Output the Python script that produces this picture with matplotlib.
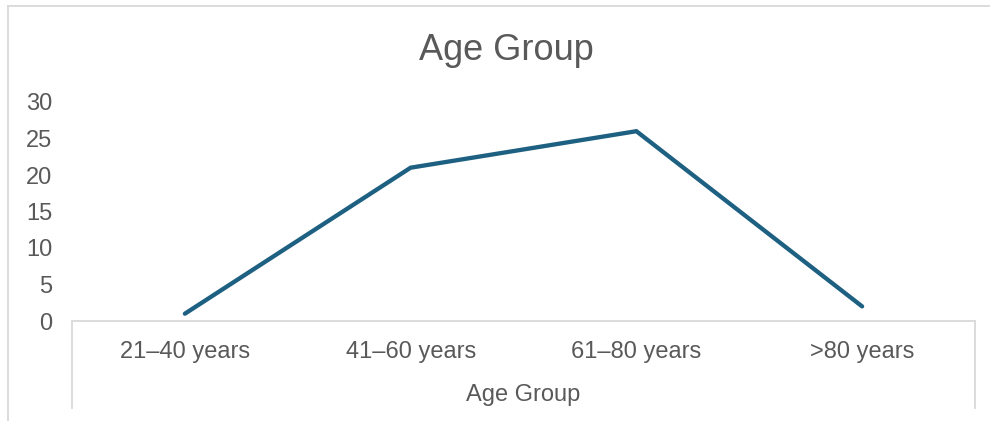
import matplotlib
import matplotlib.pyplot as plt
from matplotlib.lines import Line2D

matplotlib.use("Agg")

categories = ["21–40 years", "41–60 years", "61–80 years", ">80 years"]
counts = [1, 21, 26, 2]
y_ticks = [0, 5, 10, 15, 20, 25, 30]

TEXT = "#595959"
LINE = "#1D6082"
GRID = "#D9D9D9"

plt.rcParams["font.family"] = ["Liberation Sans", "DejaVu Sans"]

W, H = 990, 421
fig = plt.figure(figsize=(W / 100, H / 100), dpi=100)

# plot area in pixel terms: x 72..975, y 102..321
left, right, top, bottom = 72, 975, 102, 321
ax = fig.add_axes([left / W, 1 - bottom / H, (right - left) / W, (bottom - top) / H])

x = list(range(len(categories)))
ax.plot(x, counts, color=LINE, linewidth=3.1, solid_capstyle="round",
        solid_joinstyle="miter", clip_on=False)

ax.set_xlim(-0.5, len(categories) - 0.5)
ax.set_ylim(0, 30)
ax.set_yticks(y_ticks)
ax.set_xticks(x)
ax.set_xticklabels(categories)
ax.tick_params(axis="both", length=0, colors=TEXT, labelsize=17)
ax.tick_params(axis="x", pad=14.5)
ax.tick_params(axis="y", pad=14)

for s in ["top", "right", "left"]:
    ax.spines[s].set_visible(False)
ax.spines["bottom"].set_color(GRID)
ax.spines["bottom"].set_linewidth(1.3)

# bracket lines of the category axis
depth = -(408 - bottom) / (bottom - top)
for xa in (0, 1):
    ax.add_line(Line2D([xa, xa], [0, depth], transform=ax.transAxes,
                       color=GRID, linewidth=1.3, clip_on=False))

ax.set_xlabel("Age Group", fontsize=17, color=TEXT)
ax.xaxis.set_label_coords(0.5, -(395 - bottom) / (bottom - top))
ax.xaxis.label.set_va("center")

fig.text(506 / W, 1 - 50 / H, "Age Group", ha="center", va="center",
         fontsize=26, color=TEXT)

# chart border
fig.add_artist(Line2D([8 / W, 1], [1 - 6 / H, 1 - 6 / H], transform=fig.transFigure,
                      color=GRID, linewidth=1.3))
fig.add_artist(Line2D([8 / W, 8 / W], [0, 1 - 6 / H], transform=fig.transFigure,
                      color=GRID, linewidth=1.3))

fig.savefig("out.png", dpi=100)
